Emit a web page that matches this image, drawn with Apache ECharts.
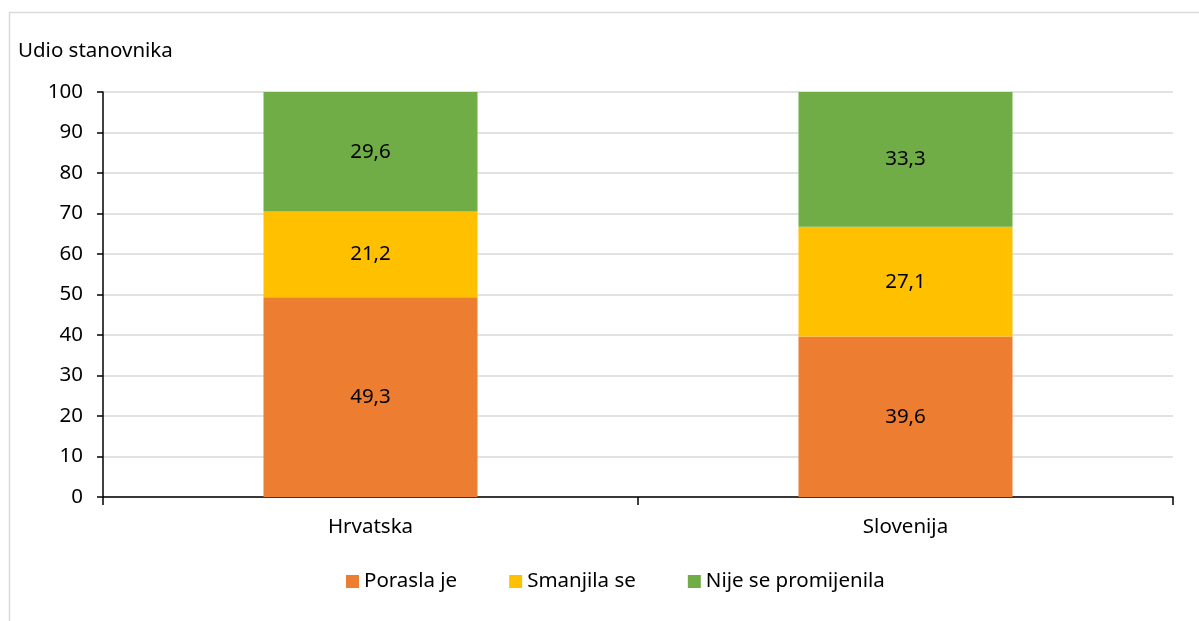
<!DOCTYPE html>
<html>
<head>
<meta charset="utf-8">
<script src="https://cdn.jsdelivr.net/npm/echarts@6/dist/echarts.min.js"></script>
<style>
  html, body { margin: 0; padding: 0; background: #fff; }
  #chart { width: 1199px; height: 621px; }
</style>
</head>
<body>
<div id="chart"></div>
<script>
    // podaci
    var categories = ['Hrvatska', 'Slovenija'];
    var porasla = [49.3, 39.6];
    var smanjila = [21.2, 27.1];
    var nijePromijenila = [29.6, 33.3];
    var seriesNames = ['Porasla je', 'Smanjila se', 'Nije se promijenila'];
    var colors = ['#ED7D31', '#FFC000', '#70AD47'];

    var font = '"Noto Sans", "Open Sans", sans-serif';
    var fs = 20.5;

    function fmt(v) {
        return String(v.toFixed(1)).replace('.', ',');
    }

    function makeSeries(name, data, color) {
        return {
            name: name,
            type: 'bar',
            stack: 'total',
            barWidth: '40%',
            data: data,
            itemStyle: {color: color},
            label: {
                show: true,
                position: 'inside',
                color: '#000',
                fontFamily: font,
                fontSize: fs,
                formatter: function (p) { return fmt(p.value); }
            }
        };
    }

    var chart = echarts.init(document.getElementById('chart'));
    chart.setOption({
        animation: false,
        textStyle: {fontFamily: font},
        graphic: [{
            type: 'rect',
            shape: {x: 9.5, y: 12.5, width: 1300, height: 700},
            style: {fill: 'none', stroke: '#d9d9d9', lineWidth: 1.5},
            silent: true
        }],
        grid: {left: 103, right: 26, top: 92, bottom: 124},
        legend: {
            data: seriesNames,
            top: 566,
            left: 341,
            itemWidth: 13,
            itemHeight: 13,
            itemGap: 52,
            icon: 'rect',
            textStyle: {fontFamily: font, fontSize: fs, color: '#000'}
        },
        xAxis: {
            type: 'category',
            data: categories,
            axisLine: {lineStyle: {color: '#000', width: 1.5}},
            axisTick: {show: true, length: 8, lineStyle: {color: '#000', width: 1.5}},
            axisLabel: {color: '#000', fontFamily: font, fontSize: fs, margin: 20}
        },
        yAxis: {
            type: 'value',
            min: 0,
            max: 100,
            interval: 10,
            name: 'Udio stanovnika',
            nameLocation: 'end',
            nameGap: 30,
            nameTextStyle: {color: '#000', fontFamily: font, fontSize: fs, align: 'left', padding: [0, 0, 0, -85]},
            axisLine: {show: true, lineStyle: {color: '#000', width: 1.5}},
            axisTick: {show: true, length: 6, lineStyle: {color: '#000', width: 1.5}},
            axisLabel: {color: '#000', fontFamily: font, fontSize: fs, margin: 20},
            splitLine: {lineStyle: {color: '#d9d9d9', width: 1.5}}
        },
        series: [
            makeSeries(seriesNames[0], porasla, colors[0]),
            makeSeries(seriesNames[1], smanjila, colors[1]),
            makeSeries(seriesNames[2], nijePromijenila, colors[2])
        ]
    });
</script>
</body>
</html>
